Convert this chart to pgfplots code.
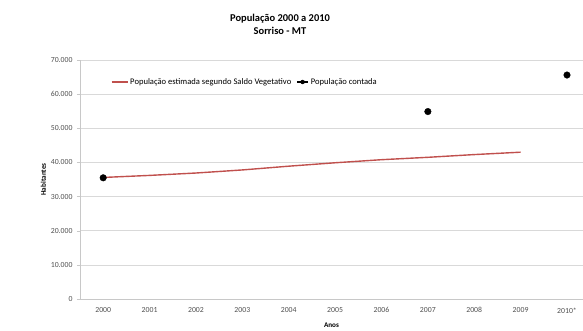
\documentclass[border=0pt]{standalone}
\usepackage{pgfplots}
\pgfplotsset{compat=1.18}
\usepackage{fontspec}
\setmainfont{Carlito}
\definecolor{redline}{RGB}{192,80,77}
\definecolor{gridc}{RGB}{217,217,217}
\definecolor{axc}{RGB}{200,200,200}
\definecolor{txt}{RGB}{80,80,80}
\begin{document}
\begin{tikzpicture}[x=1bp,y=1bp]
\begin{axis}[
  scale only axis,
  width=503bp, height=239bp,
  xmin=-0.5, xmax=10.345,
  ymin=0, ymax=70000,
  xtick={0,...,10},
  xticklabels={2000,2001,2002,2003,2004,2005,2006,2007,2008,2009,2010*},
  extra x ticks={-0.5,0.5,1.5,2.5,3.5,4.5,5.5,6.5,7.5,8.5,9.5},
  extra x tick labels={},
  extra x tick style={major tick length=3bp, tick style={axc}, grid=none},
  x tick style={draw=none},
  ytick={0,10000,...,70000},
  scaled y ticks=false,
  yticklabel={\pgfmathprintnumber[fixed, precision=0, 1000 sep={.}, assume math mode=true]{\tick}},
  ymajorgrids, grid style={gridc, line width=0.6pt},
  y tick style={axc}, major tick length=3bp,
  tick align=outside,
  axis x line*=bottom, axis y line*=left,
  axis line style={axc, line width=0.8pt, -},
  ticklabel style={font=\fontsize{7.8}{9}\selectfont, text=txt},
  yticklabel style={xshift=-1bp},
  xticklabel style={yshift=-2bp},
  xlabel={\textbf{Anos}}, xlabel style={font=\fontsize{7.2}{8}\selectfont, yshift=3bp},
  ylabel={\textbf{Habitantes}}, ylabel style={font=\fontsize{7.2}{8}\selectfont, yshift=-2bp},
  legend style={draw=none, fill=none, at={(0.055,0.908)}, anchor=west, font=\fontsize{8.6}{10}\selectfont, legend columns=2, /tikz/every even column/.append style={column sep=3bp}},
  legend cell align=left,
  clip=false,
]
\addplot[redline, line width=1.4pt, mark=none, legend image code/.code={
  \draw[redline, line width=1.4pt] (0bp,0bp) -- (16bp,0bp);}] coordinates {
(0,35600) (1,36200) (2,36900) (3,37800) (4,38900) (5,39900) (6,40800) (7,41500) (8,42300) (9,43000)};
\addlegendentry{População estimada segundo Saldo Vegetativo}
\addplot[only marks, mark=*, mark size=3.3pt, black, legend image code/.code={
  \draw[black, line width=1.6pt] (0bp,0bp) -- (11bp,0bp);
  \fill[black] (5.5bp,0bp) circle (2pt);}] coordinates {
(0,35500) (7,54900) (10,65600)};
\addlegendentry{População contada}
\end{axis}
\node[font=\bfseries\fontsize{10.5}{13}\selectfont, align=center] at (200bp, 275bp) {População 2000 a 2010\\Sorriso - MT};
\pgfresetboundingbox
\path[use as bounding box] (-80bp,-32bp) rectangle (503bp,299bp);
\end{tikzpicture}
\end{document}
